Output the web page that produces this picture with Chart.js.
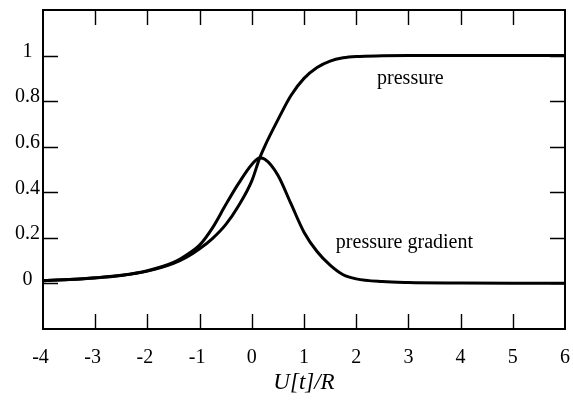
<!DOCTYPE html>
<html>
<head>
<meta charset="utf-8">
<script src="https://cdn.jsdelivr.net/npm/chart.js@4.4.0/dist/chart.umd.min.js"></script>
<style>
  html, body { margin: 0; padding: 0; background: #fff; }
</style>
</head>
<body>
<canvas id="chart" width="573" height="402"></canvas>
<script>
// values
var uValues = [-4, -3.5, -3, -2.5, -2, -1.5, -1.25, -1, -0.75, -0.5, -0.25, 0, 0.15, 0.25, 0.5, 0.75, 1, 1.25, 1.5, 1.75, 2, 2.5, 3, 4, 5, 6];
var pressure = [0.012, 0.017, 0.024, 0.035, 0.054, 0.088, 0.115, 0.152, 0.198, 0.258, 0.342, 0.45, 0.55, 0.603, 0.718, 0.825, 0.9, 0.948, 0.976, 0.99, 0.996, 0.999, 1, 1, 1, 1];
var pressureGradient = [0.012, 0.017, 0.025, 0.036, 0.056, 0.092, 0.125, 0.168, 0.245, 0.345, 0.44, 0.522, 0.55, 0.545, 0.475, 0.35, 0.225, 0.14, 0.08, 0.038, 0.02, 0.008, 0.004, 0.002, 0.001, 0.001];

var xTicks = [-4, -3, -2, -1, 0, 1, 2, 3, 4, 5, 6];
var yTicks = [0, 0.2, 0.4, 0.6, 0.8, 1];

var curveLabels = ["pressure", "pressure gradient"];
var labelAt = [[2.4, 0.875], [1.61, 0.155]];

var serif = "'Liberation Serif', 'Times New Roman', serif";

var toPoints = function (ys) {
  return uValues.map(function (u, i) { return { x: u, y: ys[i] }; });
};

// frame with inward tick marks, plus the two curve labels
var framePlugin = {
  id: "frame",
  afterDraw: function (chart) {
    var ctx = chart.ctx;
    var a = chart.chartArea;
    var xs = chart.scales.x;
    var ys = chart.scales.y;
    var len = 15;
    ctx.save();
    ctx.strokeStyle = "#000";
    ctx.lineWidth = 2;
    ctx.strokeRect(a.left, a.top, a.right - a.left, a.bottom - a.top);
    ctx.lineWidth = 1.4;
    ctx.beginPath();
    xTicks.forEach(function (v) {
      if (v === xs.min || v === xs.max) return;
      var px = Math.round(xs.getPixelForValue(v)) + 0.5;
      ctx.moveTo(px, a.top);
      ctx.lineTo(px, a.top + len);
      ctx.moveTo(px, a.bottom);
      ctx.lineTo(px, a.bottom - len);
    });
    yTicks.forEach(function (v) {
      var py = Math.round(ys.getPixelForValue(v)) + 0.5;
      ctx.moveTo(a.left, py);
      ctx.lineTo(a.left + len, py);
      ctx.moveTo(a.right, py);
      ctx.lineTo(a.right - len, py);
    });
    ctx.stroke();

    ctx.fillStyle = "#000";
    ctx.font = "20px " + serif;
    ctx.textAlign = "left";
    ctx.textBaseline = "alphabetic";
    curveLabels.forEach(function (t, i) {
      ctx.fillText(t, xs.getPixelForValue(labelAt[i][0]), ys.getPixelForValue(labelAt[i][1]));
    });
    ctx.restore();
  }
};

var lineStyle = {
  borderColor: "#000",
  borderWidth: 3,
  pointRadius: 0,
  showLine: true,
  fill: false,
  cubicInterpolationMode: "monotone"
};

var chart = new Chart(document.getElementById("chart").getContext("2d"), {
  type: "scatter",
  data: {
    datasets: [
      Object.assign({ label: "pressure", data: toPoints(pressure) }, lineStyle),
      Object.assign({ label: "pressure gradient", data: toPoints(pressureGradient) }, lineStyle)
    ]
  },
  options: {
    responsive: false,
    animation: false,
    layout: { padding: { left: 0, right: 8, top: 10, bottom: 0 } },
    plugins: {
      legend: { display: false },
      tooltip: { enabled: false }
    },
    scales: {
      x: {
        type: "linear",
        min: -4,
        max: 6,
        grid: { display: false, drawTicks: false },
        border: { display: false },
        afterBuildTicks: function (s) {
          s.ticks = xTicks.map(function (v) { return { value: v }; });
        },
        afterFit: function (s) {
          s.height = 73;
          s.paddingLeft = 0;
          s.paddingRight = 0;
        },
        ticks: {
          color: "#000",
          padding: 17,
          maxRotation: 0,
          font: { family: serif, size: 20 },
          callback: function (v) { return v < 0 ? v + " " : String(v); }
        },
        title: {
          display: true,
          text: "U[t]/R",
          color: "#000",
          font: { family: serif, size: 23, style: "italic" },
          padding: { top: 0, bottom: 5 }
        }
      },
      y: {
        min: -0.2,
        max: 1.2,
        grid: { display: false, drawTicks: false },
        border: { display: false },
        afterBuildTicks: function (s) {
          s.ticks = yTicks.map(function (v) { return { value: v }; });
        },
        afterFit: function (s) {
          s.width = 43;
          s.paddingTop = 0;
          s.paddingBottom = 0;
        },
        ticks: {
          color: "#000",
          padding: 3,
          crossAlign: "center",
          labelOffset: -4,
          font: { family: serif, size: 20 },
          callback: function (v) { return String(v); }
        }
      }
    }
  },
  plugins: [framePlugin]
});
</script>
</body>
</html>
